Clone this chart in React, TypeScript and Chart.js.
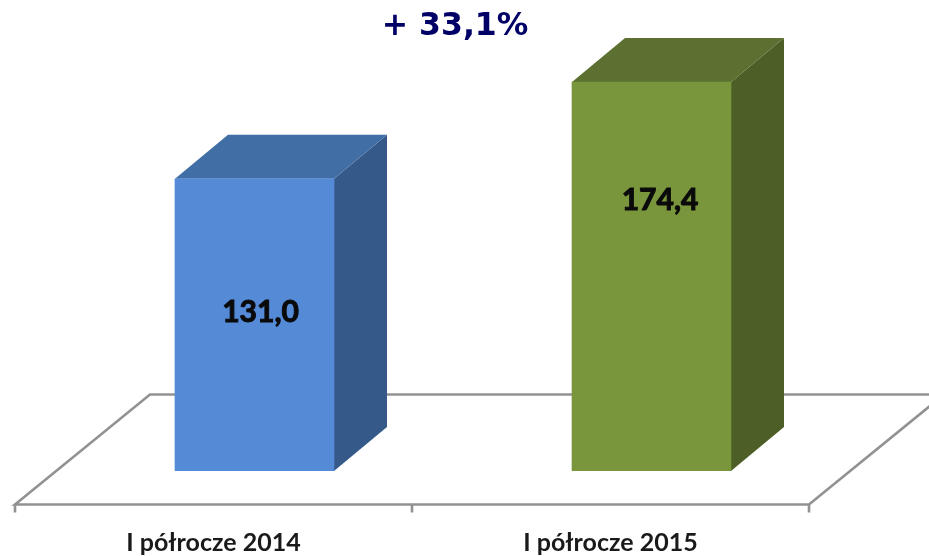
import React, { useEffect, useRef } from "react";
import { Chart, registerables } from "chart.js";

Chart.register(...registerables);

const categories = ["I półrocze 2014", "I półrocze 2015"];
const values = [131.0, 174.4];
const valueLabels = ["131,0", "174,4"];
const changeLabel = "+ 33,1%";

const frontColors = ["#558ad6", "#7a963c"];
const sideColors = ["#355a8a", "#4d5f26"];
const topColors = ["#426ea6", "#5c7031"];
const labelShiftY = [133, 118];
const labelShiftX = [6, 8.5];

const DX = 53;
const DY = 44;
const LABEL_FONT = "Lato, Carlito, sans-serif";

const cubePlugin = {
  id: "cube",
  beforeDatasetsDraw(chart: any) {
    const { ctx, scales } = chart;
    const meta = chart.getDatasetMeta(0);
    const bottom = scales.y.getPixelForValue(0);
    const left = chart.chartArea.left;
    const right = chart.chartArea.right;
    const floorFront = bottom + 33.5;
    const floorBack = bottom - 76.5;
    const frontL = left - 41;
    const frontR = right - 41;
    ctx.save();
    ctx.strokeStyle = "#929292";
    ctx.lineWidth = 2.6;
    ctx.lineJoin = "miter";
    ctx.beginPath();
    ctx.moveTo(frontL, floorFront);
    ctx.lineTo(frontL + 135, floorBack);
    ctx.lineTo(frontR + 135, floorBack);
    ctx.lineTo(frontR, floorFront);
    ctx.closePath();
    ctx.stroke();
    const ticks = [frontL, (frontL + frontR) / 2, frontR];
    ticks.forEach((t) => {
      ctx.beginPath();
      ctx.moveTo(t, floorFront);
      ctx.lineTo(t, floorFront + 8);
      ctx.stroke();
    });
    meta.data.forEach((bar: any, i: number) => {
      const l = bar.x - bar.width / 2;
      const r = bar.x + bar.width / 2;
      const t = bar.y;
      const b = bar.base;
      ctx.fillStyle = sideColors[i];
      ctx.beginPath();
      ctx.moveTo(r, t);
      ctx.lineTo(r + DX, t - DY);
      ctx.lineTo(r + DX, b - DY);
      ctx.lineTo(r, b);
      ctx.closePath();
      ctx.fill();
      ctx.fillStyle = topColors[i];
      ctx.beginPath();
      ctx.moveTo(l, t);
      ctx.lineTo(l + DX, t - DY);
      ctx.lineTo(r + DX, t - DY);
      ctx.lineTo(r, t);
      ctx.closePath();
      ctx.fill();
    });
    ctx.restore();
  },
  afterDatasetsDraw(chart: any) {
    const { ctx } = chart;
    const meta = chart.getDatasetMeta(0);
    ctx.save();
    ctx.textAlign = "center";
    ctx.textBaseline = "middle";
    ctx.fillStyle = "#0a0a0a";
    ctx.strokeStyle = "#0a0a0a";
    ctx.lineWidth = 1;
    ctx.font = `bold 30px ${LABEL_FONT}`;
    meta.data.forEach((bar: any, i: number) => {
      ctx.fillText(valueLabels[i], bar.x + labelShiftX[i], bar.y + labelShiftY[i]);
      ctx.strokeText(valueLabels[i], bar.x + labelShiftX[i], bar.y + labelShiftY[i]);
    });
    ctx.fillStyle = "#000066";
    ctx.font = 'bold 31.5px "DejaVu Sans", Verdana, sans-serif';
    ctx.fillText(changeLabel, 455, 27);
    ctx.restore();
  },
};

export default function App() {
  const ref = useRef<HTMLCanvasElement | null>(null);
  useEffect(() => {
    const chart = new Chart(ref.current as HTMLCanvasElement, {
      type: "bar",
      data: {
        labels: categories,
        datasets: [
          {
            data: values,
            backgroundColor: frontColors,
            borderWidth: 0,
            barThickness: 159,
          },
        ],
      },
      options: {
        responsive: false,
        animation: false,
        layout: { padding: { left: 56, right: 79, top: 25, bottom: 0 } },
        plugins: { legend: { display: false }, title: { display: false }, tooltip: { enabled: false } },
        scales: {
          x: {
            grid: { display: false },
            border: { display: false },
            afterFit: (s: any) => {
              s.height = 85;
            },
            ticks: {
              color: "#1a1a1a",
              font: { family: LABEL_FONT, size: 25, weight: "bold" },
              labelOffset: -41,
              padding: 49,
              maxRotation: 0,
            },
          },
          y: { display: false, min: 0, max: 200 },
        },
      },
      plugins: [cubePlugin],
    } as any);
    return () => chart.destroy();
  }, []);
  return (
    <div style={{ position: "absolute", left: 0, top: 0 }}>
      <canvas ref={ref} width={929} height={556} style={{ display: "block" }} />
    </div>
  );
}
